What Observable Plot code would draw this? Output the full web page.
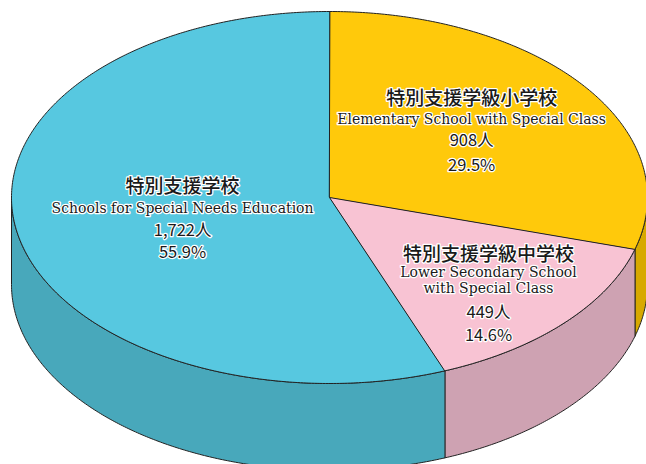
<!DOCTYPE html>
<html><head><meta charset="utf-8">
<script src="https://cdn.jsdelivr.net/npm/d3@7"></script>
<script src="https://cdn.jsdelivr.net/npm/@observablehq/plot@0.6"></script>
<style>body{margin:0;background:#fff}svg{display:block}</style>
</head><body><div id="chart"></div>
<script>
// ---- data ----
const categories = ["特別支援学級小学校", "特別支援学級中学校", "特別支援学校"];
const englishLabels = [["Elementary School with Special Class"], ["Lower Secondary School", "with Special Class"], ["Schools for Special Needs Education"]];
const counts = [908, 449, 1722];
const percents = [29.5, 14.6, 55.9];
const countLabels = ["908人", "449人", "1,722人"];
const percentLabels = ["29.5%", "14.6%", "55.9%"];

// ---- styles / layout ----
const topColors = ["#FFC90B", "#F8C3D3", "#57C8E0"];
const wallColors = ["#D7A900", "#CEA2B2", "#48A8BB"];
const depth = 0.468; // wall height in y units
const labelAnchor = [{x: 0.447, y: 0.532}, {x: 0.5, y: -0.312}, {x: -0.462, y: 0.059}];
const lineOffsets = [[0, 21, 42, 67], [-1, 17, 33, 57, 80], [0, 22, 44, 66]]; // px
const pxPerUnitY = 186;

// ---- geometry from data ----
const total = d3.sum(percents);
let acc = 0;
const slices = percents.map((p, i) => {
  const a0 = acc / total * 2 * Math.PI;
  acc += p;
  const a1 = acc / total * 2 * Math.PI;
  return {i, a0, a1};
});
function arc(a0, a1, dy = 0) {
  const n = Math.max(2, Math.ceil((a1 - a0) / (Math.PI / 360)));
  return d3.range(n + 1).map(k => {
    const a = a0 + (a1 - a0) * k / n;
    return {x: Math.sin(a), y: Math.cos(a) - dy};
  });
}
const walls = [];
for (const s of slices) {
  const lo = Math.max(s.a0, Math.PI / 2), hi = Math.min(s.a1, 3 * Math.PI / 2);
  if (hi > lo) walls.push({fill: wallColors[s.i], pts: [...arc(lo, hi), ...arc(lo, hi, depth).reverse()]});
}
const tops = slices.map(s => ({fill: topColors[s.i], pts: [{x: 0, y: 0}, ...arc(s.a0, s.a1)]}));

const rows = [];
slices.forEach(s => {
  const texts = [[categories[s.i], "jp"], ...englishLabels[s.i].map(t => [t, "en"]), [countLabels[s.i], "num"], [percentLabels[s.i], "num"]];
  texts.forEach(([t, kind], k) => rows.push({
    x: labelAnchor[s.i].x,
    y: labelAnchor[s.i].y - lineOffsets[s.i][k] / pxPerUnitY,
    text: t, kind
  }));
});

const faceMark = f => Plot.line(f.pts, {x: "x", y: "y", fill: f.fill, stroke: "#222", strokeWidth: 1, curve: "linear-closed"});
const textOpts = {x: "x", y: "y", text: "text", fill: "#1a1a1a", stroke: "white", strokeWidth: 2.5, textAnchor: "middle"};

const chart = Plot.plot({
  width: 646, height: 464,
  margin: 0,
  x: {domain: [-1, 1], range: [11, 647], axis: null},
  y: {domain: [-1, 1], range: [383, 11], axis: null},
  marks: [
    ...walls.map(faceMark),
    ...tops.map(faceMark),
    Plot.text(rows.filter(r => r.kind === "jp"), {...textOpts, fontFamily: "Noto Sans CJK JP", fontSize: 19, fontWeight: 500}),
    Plot.text(rows.filter(r => r.kind === "en"), {...textOpts, fontFamily: "DejaVu Serif", fontSize: 14, letterSpacing: "-0.2px"}),
    Plot.text(rows.filter(r => r.kind === "num"), {...textOpts, fontFamily: "Noto Sans CJK JP", fontSize: 16.5})
  ]
});
document.getElementById("chart").append(chart);
</script>
</body></html>
